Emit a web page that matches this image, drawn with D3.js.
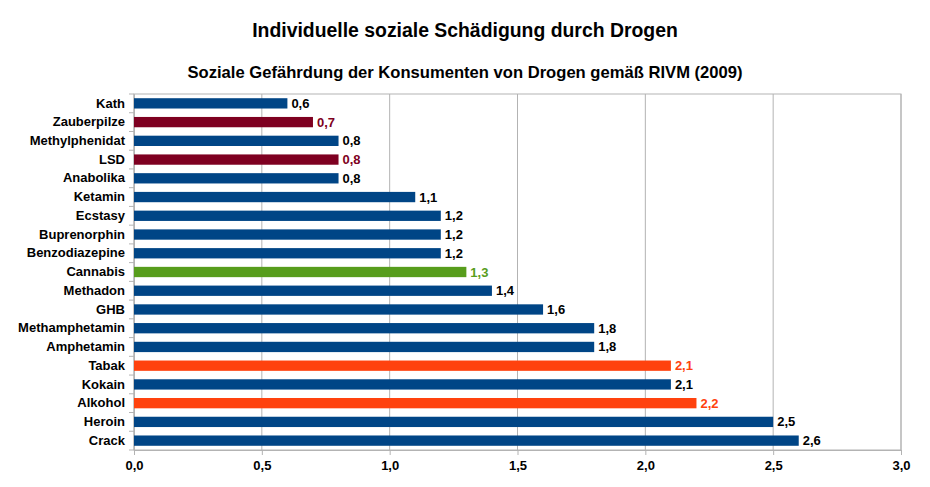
<!DOCTYPE html>
<html>
<head>
<meta charset="utf-8">
<script src="https://cdn.jsdelivr.net/npm/d3@7"></script>
<style>
  body { margin: 0; background: #fff; }
  svg { font-family: "Liberation Sans", Arial, sans-serif; }
</style>
</head>
<body>
<svg id="chart" width="930" height="487"></svg>
<script>
const drugs = ["Kath", "Zauberpilze", "Methylphenidat", "LSD", "Anabolika", "Ketamin", "Ecstasy",
  "Buprenorphin", "Benzodiazepine", "Cannabis", "Methadon", "GHB", "Methamphetamin",
  "Amphetamin", "Tabak", "Kokain", "Alkohol", "Heroin", "Crack"];
const harm = [0.6, 0.7, 0.8, 0.8, 0.8, 1.1, 1.2, 1.2, 1.2, 1.3, 1.4, 1.6, 1.8, 1.8, 2.1, 2.1, 2.2, 2.5, 2.6];
// group: 0 = other, 1 = psychedelic, 2 = cannabis, 3 = legal
const group = [0, 1, 0, 1, 0, 0, 0, 0, 0, 2, 0, 0, 0, 0, 3, 0, 3, 0, 0];
const groupColors = ["#004586", "#7e0021", "#579d1c", "#ff420e"];
const labelColors = ["#000000", "#7e0021", "#579d1c", "#ff420e"];
const xTicks = [0, 0.5, 1, 1.5, 2, 2.5, 3];

const svg = d3.select("#chart");
const margin = { left: 134, right: 29, top: 94, bottom: 37 };
const W = 930, H = 487;

const x = d3.scaleLinear().domain([0, 3]).range([margin.left, W - margin.right]);
const y = d3.scaleBand().domain(drugs).range([margin.top, H - margin.bottom]).paddingInner(0.45).paddingOuter(0.225);
const fmt = v => d3.format(".1f")(v).replace(".", ",");

svg.append("text").attr("x", 465).attr("y", 37).attr("text-anchor", "middle")
  .attr("font-size", 19.4).attr("font-weight", "bold").text("Individuelle soziale Schädigung durch Drogen");
svg.append("text").attr("x", 465).attr("y", 78).attr("text-anchor", "middle")
  .attr("font-size", 16.6).attr("font-weight", "bold").text("Soziale Gefährdung der Konsumenten von Drogen gemäß RIVM (2009)");

// grid
svg.append("g").selectAll("line").data(xTicks).enter().append("line")
  .attr("x1", d => x(d)).attr("x2", d => x(d))
  .attr("y1", margin.top).attr("y2", H - margin.bottom)
  .attr("stroke", "#b3b3b3");

svg.append("rect").attr("x", margin.left).attr("y", margin.top)
  .attr("width", W - margin.left - margin.right).attr("height", H - margin.top - margin.bottom)
  .attr("fill", "none").attr("stroke", "#b3b3b3");

// x axis
const xAxis = svg.append("g").attr("transform", `translate(0,${H - margin.bottom})`)
  .call(d3.axisBottom(x).tickValues(xTicks).tickFormat(fmt).tickSize(5).tickPadding(6));
xAxis.select(".domain").attr("stroke", "#b3b3b3");
xAxis.selectAll(".tick line").attr("stroke", "#b3b3b3");
xAxis.selectAll("text").attr("font-size", 13).attr("font-weight", "bold").attr("fill", "#000")
  .attr("font-family", "Liberation Sans, Arial, sans-serif");

// y axis with ticks at category boundaries
const yAxis = svg.append("g").attr("transform", `translate(${margin.left},0)`)
  .call(d3.axisLeft(y).tickSize(0).tickPadding(9));
yAxis.select(".domain").attr("stroke", "#b3b3b3");
yAxis.selectAll("text").attr("font-size", 13).attr("font-weight", "bold").attr("fill", "#000")
  .attr("font-family", "Liberation Sans, Arial, sans-serif");
const step = y.step();
const bounds = d3.range(drugs.length + 1).map(i => margin.top + i * step);
svg.append("g").selectAll("line").data(bounds).enter().append("line")
  .attr("x1", margin.left - 5).attr("x2", margin.left)
  .attr("y1", d => d).attr("y2", d => d).attr("stroke", "#b3b3b3");

// bars
svg.append("g").selectAll("rect").data(drugs).enter().append("rect")
  .attr("x", x(0)).attr("y", d => y(d))
  .attr("width", (d, i) => x(harm[i]) - x(0)).attr("height", y.bandwidth())
  .attr("fill", (d, i) => groupColors[group[i]]);

svg.append("g").selectAll("text").data(drugs).enter().append("text")
  .attr("x", (d, i) => x(harm[i]) + 4).attr("y", d => y(d) + y.bandwidth() / 2)
  .attr("dy", "0.35em").attr("font-size", 13).attr("font-weight", "bold")
  .attr("fill", (d, i) => labelColors[group[i]])
  .text((d, i) => fmt(harm[i]));
</script>
</body>
</html>
